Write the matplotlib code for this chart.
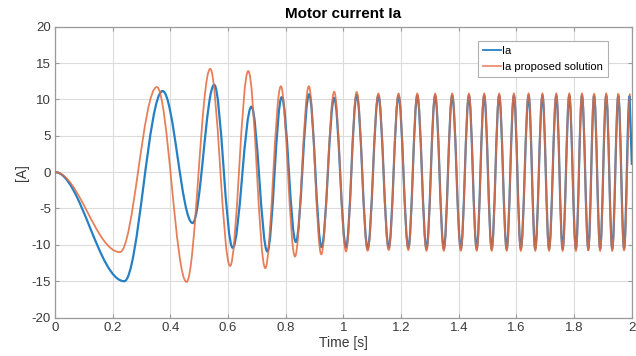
import numpy as np
import matplotlib
matplotlib.use('Agg')
import matplotlib.pyplot as plt
from matplotlib.path import Path
from matplotlib.patches import PathPatch
from matplotlib.lines import Line2D

# extrema of each trace (time [s], current [A])
t_ia = [0.0, 0.240, 0.373, 0.477, 0.552, 0.616, 0.681, 0.736, 0.786, 0.835,
        0.881, 0.924, 0.968, 1.009, 1.046, 1.084, 1.121, 1.157, 1.191, 1.225,
        1.256, 1.288, 1.318, 1.348, 1.377, 1.407, 1.435, 1.462, 1.488, 1.514,
        1.540, 1.566, 1.591, 1.615, 1.642, 1.665, 1.690, 1.713, 1.738, 1.760,
        1.783, 1.806, 1.827, 1.849, 1.869, 1.890, 1.911, 1.932, 1.953, 1.973,
        1.992]
ia = [0.0, -15.0, 11.15, -7.0, 12.0, -10.4, 9.0, -10.9, 10.3, -9.6,
      10.7, -10.3, 10.2, -10.3, 10.6, -10.5, 10.5, -10.4, 10.5, -10.4,
      10.5, -10.5, 10.5, -10.5, 10.5, -10.5, 10.5, -10.5, 10.5, -10.5,
      10.5, -10.5, 10.5, -10.5, 10.5, -10.5, 10.5, -10.5, 10.5, -10.5,
      10.5, -10.5, 10.5, -10.5, 10.5, -10.5, 10.5, -10.5, 10.5, -10.5,
      10.5]
# blue trace's last sample at the right edge
ia_end = (2.0, 1.0)

t_prop = [0.0, 0.225, 0.353, 0.456, 0.538, 0.607, 0.670, 0.729, 0.783, 0.832,
          0.880, 0.923, 0.968, 1.009, 1.046, 1.084, 1.121, 1.157, 1.191, 1.225,
          1.256, 1.288, 1.318, 1.348, 1.377, 1.407, 1.435, 1.462, 1.488, 1.514,
          1.540, 1.566, 1.591, 1.615, 1.642, 1.665, 1.690, 1.713, 1.738, 1.760,
          1.783, 1.806, 1.827, 1.849, 1.869, 1.890, 1.911, 1.932, 1.953, 1.973,
          1.994]
ia_prop = [0.0, -11.0, 11.7, -15.1, 14.2, -12.9, 13.9, -13.2, 11.8, -11.6,
           11.8, -11.3, 11.05, -10.9, 11.0, -10.8, 10.8, -10.7, 10.8, -10.7,
           10.8, -10.8, 10.8, -10.8, 10.8, -10.8, 10.8, -10.8, 10.8, -10.8,
           10.8, -10.8, 10.8, -10.8, 10.8, -10.8, 10.8, -10.8, 10.8, -10.8,
           10.8, -10.8, 10.8, -10.8, 10.8, -10.8, 10.8, -10.8, 10.8, -10.8,
           10.8]

x_ticks = [0, 0.2, 0.4, 0.6, 0.8, 1, 1.2, 1.4, 1.6, 1.8, 2]
x_labels = ['0', '0.2', '0.4', '0.6', '0.8', '1', '1.2', '1.4', '1.6', '1.8', '2']
y_ticks = [-20, -15, -10, -5, 0, 5, 10, 15, 20]

BLUE = '#2580c4'
ORANGE = '#e36a3c'
K = 0.363  # bezier handle length ~ half-cosine between extrema


def wave_path(ts, ys, end=None):
    verts = [(ts[0], ys[0])]
    codes = [Path.MOVETO]
    for i in range(1, len(ts)):
        t0, t1 = ts[i - 1], ts[i]
        dt = t1 - t0
        verts += [(t0 + K * dt, ys[i - 1]), (t1 - K * dt, ys[i]), (t1, ys[i])]
        codes += [Path.CURVE4] * 3
    if end is not None:
        verts.append(end)
        codes.append(Path.LINETO)
    return Path(verts, codes)


plt.rcParams['font.family'] = ['Liberation Sans', 'DejaVu Sans']
plt.rcParams['axes.unicode_minus'] = False

fig = plt.figure(figsize=(6.36, 3.56), dpi=100)
ax = fig.add_axes([0.0865, 0.108, 0.907, 0.817])

ax.add_patch(PathPatch(wave_path(t_ia, ia, ia_end), fill=False,
                       edgecolor=BLUE, lw=1.6, zorder=3))
ax.add_patch(PathPatch(wave_path(t_prop, ia_prop), fill=False,
                       edgecolor=ORANGE, lw=1.3, alpha=0.85, zorder=4))

ax.set_xlim(0, 2)
ax.set_ylim(-20, 20)
ax.set_xticks(x_ticks)
ax.set_xticklabels(x_labels)
ax.set_yticks(y_ticks)

ax.grid(True, color='#dcdcdc', lw=0.8)
ax.set_axisbelow(True)
for sp in ax.spines.values():
    sp.set_color('#9a9a9a')
    sp.set_linewidth(0.9)
ax.tick_params(direction='in', length=3, colors='#9a9a9a', labelcolor='#3a3a3a',
               labelsize=9.5, top=True, right=True, pad=3)

ax.set_title('Motor current Ia', fontsize=11, fontweight='bold', pad=6)
ax.set_xlabel('Time [s]', fontsize=10, color='#3a3a3a', labelpad=2)
ax.set_ylabel('[A]', fontsize=10, color='#3a3a3a', labelpad=2)

handles = [Line2D([], [], color=BLUE, lw=1.3),
           Line2D([], [], color=ORANGE, lw=1.3, alpha=0.75)]
leg = ax.legend(handles, ['Ia', 'Ia proposed solution'], loc='upper right',
                bbox_to_anchor=(0.958, 0.952), borderaxespad=0, fontsize=8,
                fancybox=False, handlelength=1.6, handletextpad=0.1,
                borderpad=0.45, labelspacing=0.55, framealpha=1)
leg.get_frame().set_edgecolor('#b0b0b0')
leg.get_frame().set_linewidth(0.8)

fig.savefig('out.png', dpi=100)
